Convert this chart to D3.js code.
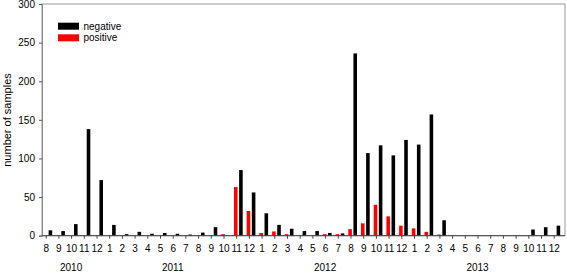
<!DOCTYPE html>
<html>
<head>
<meta charset="utf-8">
<title>samples per month</title>
<style>
  body { margin: 0; background: #fff; }
  text { font-family: "Liberation Sans", Arial, sans-serif; }
</style>
<script src="https://d3js.org/d3.v7.min.js"></script>
</head>
<body>
<svg width="567" height="273"></svg>
<script>
// months Aug 2010 .. Dec 2013
var years = ["2010", "2011", "2012", "2013"];
var months = [];
years.forEach(function(y) {
  var start = y === "2010" ? 8 : 1;
  for (var m = start; m <= 12; m++) months.push(y + "-" + m);
});

var negative = [7, 6, 15, 138, 72,
  14, 2, 5, 2.5, 3.5, 2.5, 1.5, 4, 11, 0, 85, 56,
  29, 14, 9, 6, 6, 3.5, 3, 236, 107, 117, 104, 124,
  118, 157, 20, 0, 0, 0, 0, 0, 0, 8, 11, 13];
var positive = [0, 0, 0, 0, 0,
  0, 0, 0, 0, 0, 0, 0, 0, 0, 2, 63, 32,
  3.5, 5.5, 2, 0, 0, 2, 2, 8.5, 16, 40, 25, 13,
  9.5, 5, 1.5, 0, 0, 0, 0, 0, 0, 0, 0, 0];
var yTicks = [0, 50, 100, 150, 200, 250, 300];
// month under which each year label sits
var yearAnchor = ["2010-10", "2011-6", "2012-6", "2013-6"];

var svg = d3.select("svg");
var mLeft = 42, mRight = 565, mTop = 4, mBottom = 235.7;

var x = d3.scaleBand().domain(months).range([mLeft, mLeft + 12.7 * months.length]);
var xTick = d3.scalePoint().domain(months)
  .range([x(months[0]) + 3.7, x(months[months.length - 1]) + 3.7]);
var xSub = d3.scaleBand().domain(["positive", "negative"]).range([1.5, 10.2]).paddingInner(0.3);
var y = d3.scaleLinear().domain([0, 300]).range([mBottom, mTop]);

// frame
svg.append("rect")
  .attr("x", mLeft).attr("y", mTop)
  .attr("width", mRight - mLeft).attr("height", mBottom - mTop)
  .attr("fill", "none").attr("stroke", "#999").attr("stroke-width", 1);

var rows = months.map(function(m, i) { return {m: m, pos: positive[i], neg: negative[i]}; });

svg.append("g").selectAll("rect")
  .data(rows.filter(function(d) { return d.pos > 0; }))
  .join("rect")
  .attr("x", function(d) { return x(d.m) + xSub("positive"); })
  .attr("width", xSub.bandwidth())
  .attr("y", function(d) { return y(d.pos); })
  .attr("height", function(d) { return mBottom - y(d.pos); })
  .attr("fill", "#ff0000");

svg.append("g").selectAll("rect")
  .data(rows.filter(function(d) { return d.neg > 0; }))
  .join("rect")
  .attr("x", function(d) { return x(d.m) + xSub("negative"); })
  .attr("width", xSub.bandwidth())
  .attr("y", function(d) { return y(d.neg); })
  .attr("height", function(d) { return mBottom - y(d.neg); })
  .attr("fill", "#000");

// y axis
var gy = svg.append("g").attr("transform", "translate(" + mLeft + ",0)")
  .call(d3.axisLeft(y).tickValues(yTicks).tickSize(3).tickPadding(4));
gy.select(".domain").attr("stroke", "#888");
gy.selectAll(".tick line").attr("stroke", "#555");
gy.selectAll("text").attr("font-size", 10).attr("fill", "#000")
  .attr("font-family", "Liberation Sans, Arial, sans-serif");

// x axis
var gx = svg.append("g").attr("transform", "translate(0," + mBottom + ")")
  .call(d3.axisBottom(xTick).tickSize(3).tickPadding(6.5)
    .tickFormat(function(d) { return d.split("-")[1]; }));
gx.select(".domain").attr("d", "M" + mLeft + ",0H" + mRight).attr("stroke", "#444");
gx.selectAll(".tick line").attr("stroke", "#444");
gx.selectAll("text").attr("font-size", 10).attr("fill", "#000")
  .attr("font-family", "Liberation Sans, Arial, sans-serif");

// year labels
svg.append("g").selectAll("text")
  .data(years)
  .join("text")
  .attr("x", function(d, i) { return xTick(yearAnchor[i]); })
  .attr("y", 270.5)
  .attr("text-anchor", "middle")
  .attr("font-size", 10)
  .text(function(d) { return d; });

// y title
svg.append("text")
  .attr("transform", "translate(11,120) rotate(-90)")
  .attr("text-anchor", "middle")
  .attr("font-size", 11)
  .text("number of samples");

// legend
var legend = [{name: "negative", color: "#000"}, {name: "positive", color: "#ff0000"}];
var lg = svg.append("g").selectAll("g").data(legend).join("g")
  .attr("transform", function(d, i) { return "translate(58," + (22.7 + i * 11.6) + ")"; });
lg.append("rect").attr("width", 21).attr("height", 7).attr("fill", function(d) { return d.color; });
lg.append("text").attr("x", 25.5).attr("y", 7).attr("font-size", 10)
  .text(function(d) { return d.name; });
</script>
</body>
</html>
